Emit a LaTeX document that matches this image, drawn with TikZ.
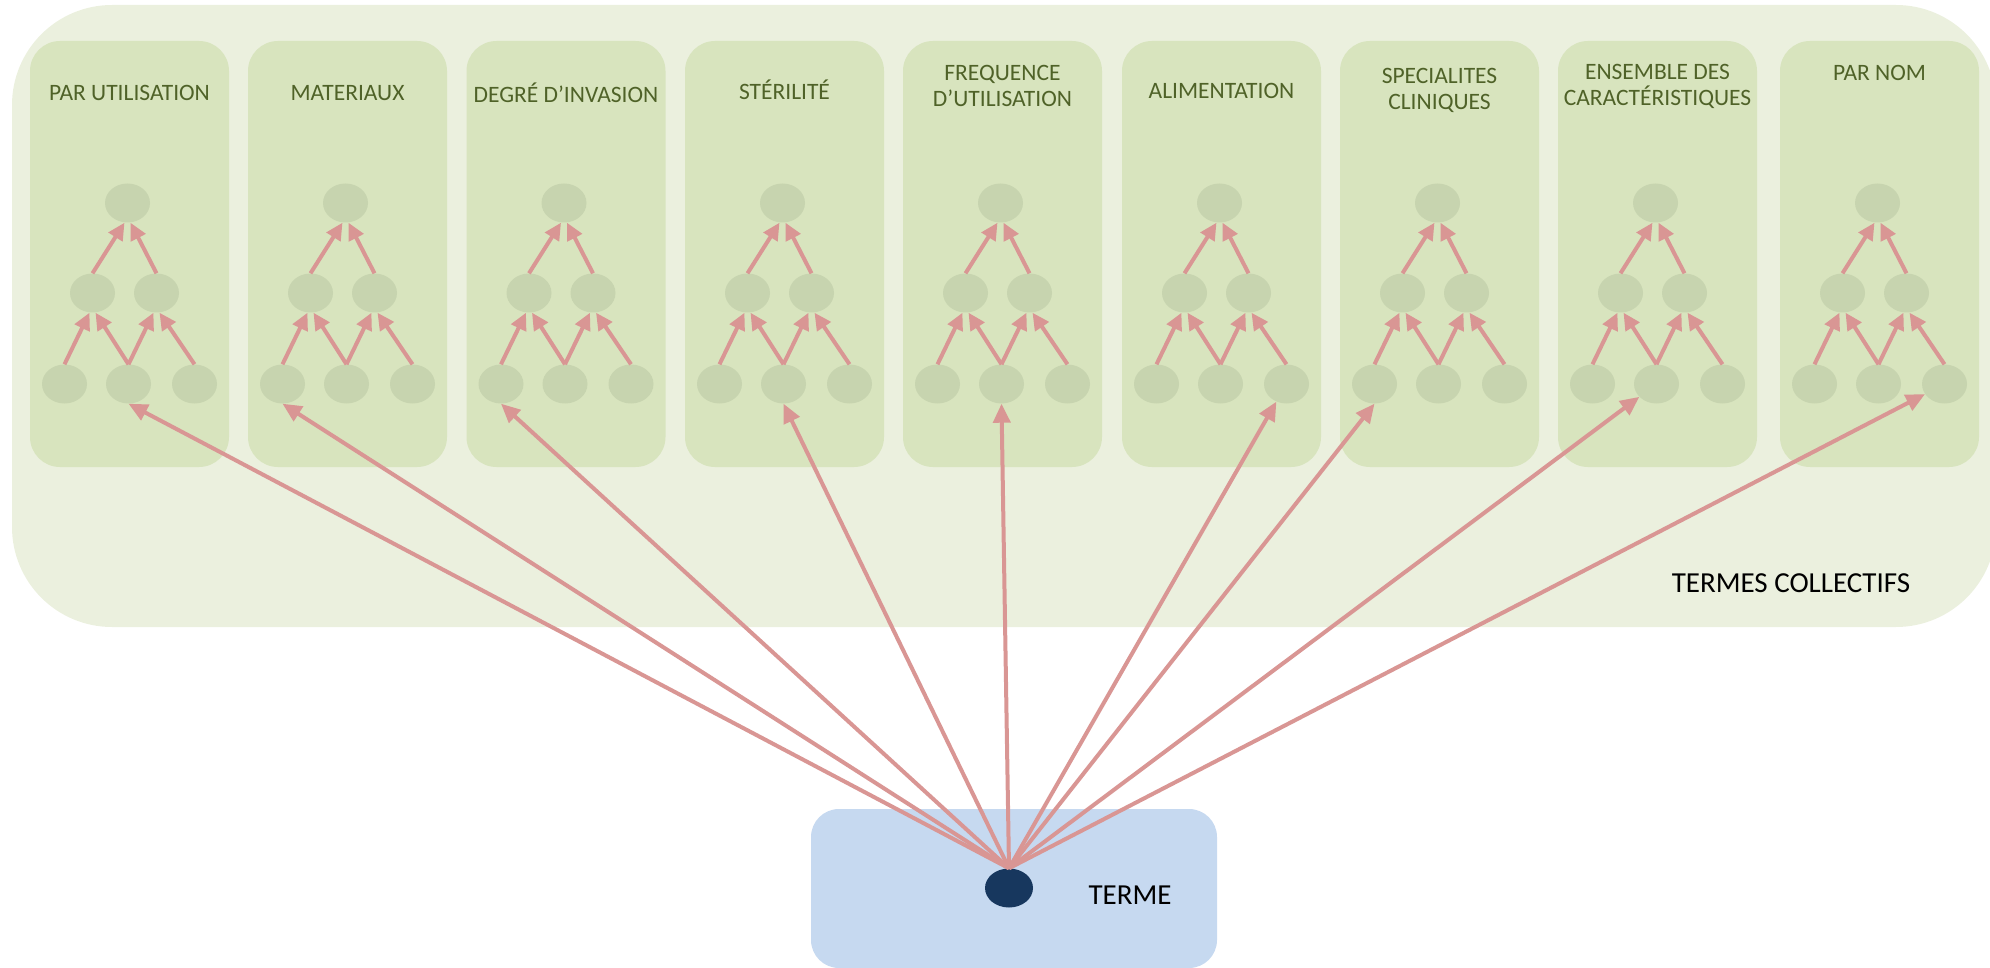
\documentclass[tikz,border=0pt]{standalone}
\usepackage{fontspec}
\setmainfont{Carlito}
\usetikzlibrary{arrows.meta,shapes.geometric}
\definecolor{outerbg}{HTML}{EBF0DE}
\definecolor{panelbg}{HTML}{D8E4BE}
\definecolor{leaf}{HTML}{C7D4AF}
\definecolor{arrowc}{HTML}{D99694}
\definecolor{titlec}{HTML}{4F6228}
\definecolor{termbg}{HTML}{C6D9F0}
\definecolor{dotc}{HTML}{17375E}
\begin{document}
\begin{tikzpicture}[x=1pt,y=-1pt,
  panel/.style={fill=panelbg, rounded corners=30pt, minimum width=199pt, minimum height=426pt, inner sep=0pt},
  leafnode/.style={ellipse, fill=leaf, minimum width=45pt, minimum height=39pt, inner sep=0pt},
  titletext/.style={text=titlec, align=center, font=\fontsize{23.5pt}{26pt}\selectfont, inner sep=0pt},
  bigtext/.style={text=black, font=\fontsize{29pt}{32pt}\selectfont, inner sep=0pt},
  treearrow/.style={draw=arrowc, line width=4pt, -{Triangle[length=17pt,width=16pt]}},
  bigarrow/.style={draw=arrowc, line width=4pt, -{Triangle[length=19pt,width=17pt]}}
]
\useasboundingbox (0,0) rectangle (1990,968);
\clip (0,0) rectangle (1990,968);
% outer collective-terms background
\fill[outerbg, rounded corners=100pt] (12,5) rectangle (1996,627);
\node[bigtext] (collectifs) at (1791,583) {TERMES COLLECTIFS};
% term box
\node[fill=termbg, rounded corners=28pt, minimum width=406pt, minimum height=159pt, inner sep=0pt] (termbox) at (1014,888.5) {};
\node[ellipse, fill=dotc, minimum width=48pt, minimum height=39pt, inner sep=0pt] (dot) at (1009,888) {};
\node[bigtext] (terme) at (1130,895) {TERME};
% panels
\foreach \i/\cx/\ty/\ttl/\tg in {
  1/129.5/93/{PAR UTILISATION}/{b2.south},
  2/347.5/93/{MATERIAUX}/{b1.south},
  3/566/93/{DEGRÉ D’INVASION}/{b1.south},
  4/784.5/90/{STÉRILITÉ}/{b2.south},
  5/1002.5/86/{FREQUENCE\\D’UTILISATION}/{b2.south},
  6/1221.5/91/{ALIMENTATION}/{b3},
  7/1439.5/90/{SPECIALITES\\CLINIQUES}/{b1.south},
  8/1657.5/86/{ENSEMBLE DES\\CARACTÉRISTIQUES}/{b2},
  9/1879.5/73/{PAR NOM}/{b3}}{
  \node[panel] (panel\i) at (\cx,254) {};
  \node[titletext] (title\i) at (\cx,\ty) {\ttl};
  \node[leafnode] (p\i-t) at (\cx-2,203) {};
  \node[leafnode] (p\i-m1) at (\cx-37,293) {};
  \node[leafnode] (p\i-m2) at (\cx+27,293) {};
  \node[leafnode] (p\i-b1) at (\cx-65,384) {};
  \node[leafnode] (p\i-b2) at (\cx-1,384) {};
  \node[leafnode] (p\i-b3) at (\cx+65,384) {};
  \draw[treearrow] (p\i-m1.north) -- ([xshift=-3pt]p\i-t.south);
  \draw[treearrow] (p\i-m2.north) -- ([xshift=3pt]p\i-t.south);
  \draw[treearrow] (p\i-b1.north) -- ([xshift=-3pt]p\i-m1.south);
  \draw[treearrow] (p\i-b2.north) -- ([xshift=3pt]p\i-m1.south);
  \draw[treearrow] (p\i-b2.north) -- ([xshift=-3pt]p\i-m2.south);
  \draw[treearrow] (p\i-b3.north) -- ([xshift=3pt]p\i-m2.south);
}
% links from the term to each collective term
\foreach \i/\tg in {1/{b2.south},2/{b1.south},3/{b1.south},4/{b2.south},5/{b2.south},6/{b3},7/{b1.south},8/{b2},9/{b3}}{
  \draw[bigarrow] (dot.north) -- (p\i-\tg);
}
\end{tikzpicture}
\end{document}
